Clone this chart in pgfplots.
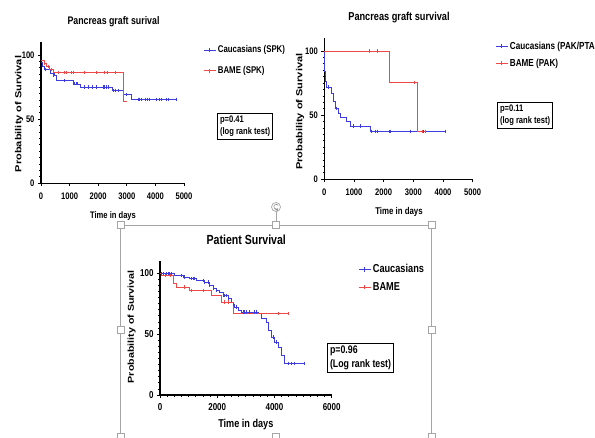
\documentclass[border=0pt]{standalone}
\usepackage{fontspec}
\setmainfont{Liberation Sans}[FakeStretch=0.8]
\newfontfamily\rotfont{Liberation Sans}
\usepackage{pgfplots}
\pgfplotsset{compat=1.18}
\usepackage{graphicx}

\definecolor{kmblue}{RGB}{60,60,225}
\definecolor{kmred}{RGB}{238,72,72}
\definecolor{framegray}{RGB}{165,165,165}

\pgfplotsset{
  kmaxis/.style={
    scale only axis, axis lines*=left, anchor=south west,
    xmin=0, ymin=0, ymax=110,
    ytick={0,50,100}, minor y tick num=9, tick align=outside,
    major tick length=3pt, minor tick length=1.8pt,
    axis line style={black, line width=1.2pt},
    every tick/.style={black, line width=0.8pt},
    /pgf/number format/assume math mode=true,
    /pgf/number format/1000 sep={},
    legend image code/.code={\draw[##1](0pt,0pt)--(12pt,0pt);\draw[##1](6pt,-2.2pt)--(6pt,2.2pt);},
    legend cell align=left,
    clip=false,
  },
  km/.style={const plot, line width=0.7pt, no marks, forget plot},
  cens/.style={only marks, mark=|, mark size=1.6pt, mark options={line width=0.6pt}, forget plot},
}

\begin{document}
\begin{tikzpicture}[x=1pt,y=1pt]
\useasboundingbox (0,0) rectangle (595,437);
\clip (0,0) rectangle (595,437);

% ---------------- selection frame around plot 3 ----------------
\draw[framegray, line width=0.8pt] (120.7,-5) -- (120.7,212) -- (431.7,212) -- (431.7,-5);
\draw[framegray, line width=0.8pt] (276,212) -- (276,225.5);
\draw[framegray, line width=0.7pt, fill=white] (276,230) circle (4.5);
\draw[framegray!80!black, line width=0.5pt, ->, >=stealth] (278.2,231.6) arc (35:320:2.4);
\foreach \hx/\hy in {120.7/212, 276/212, 431.7/212, 120.7/107, 431.7/107, 120.7/0, 276/0, 431.7/0}
  \draw[framegray, line width=0.7pt, fill=white] (\hx-3.5,\hy-3.5) rectangle (\hx+3.5,\hy+3.5);

% ---------------- Plot 1 ----------------
\begin{axis}[kmaxis, at={(41pt,253.7pt)}, width=143pt, height=141.1pt,
  xmax=5000, xtick={0,1000,2000,3000,4000,5000},
  ticklabel style={font=\bfseries\fontsize{9.5}{11}\selectfont},
  xticklabel style={yshift=-3pt},
  legend style={at={(1.133,0.99)}, anchor=north west, draw=none, fill=none,
    font=\bfseries\fontsize{9.8}{11}\selectfont, row sep=8pt, inner sep=0pt},
]
\addplot[km, kmblue] table {
0 94
40 91
120 89
314 86
450 84
530 80
1130 77.5
1360 75
2500 72.5
2880 69
3160 65.5
4730 65.5
};
\addplot[cens, kmblue] table {
140 89
420 84
800 80
1150 77.5
1220 77.5
1280 77.5
1530 75
1640 75
1780 75
1930 75
2170 75
2230 75
2280 75
2340 75
2520 72.5
2600 72.5
2690 72.5
2980 69
3390 65.5
3450 65.5
3510 65.5
3650 65.5
3720 65.5
3800 65.5
4030 65.5
4120 65.5
4190 65.5
4380 65.5
4440 65.5
4730 65.5
};
\addplot[km, kmred] table {
0 95.5
100 93.3
200 91
300 88.8
420 86.5
2890 63.5
3000 63.5
};
\addplot[cens, kmred] table {
130 93.3
250 91
350 88.8
619 86.5
804 86.5
885 86.5
1059 86.5
1119 86.5
1528 86.5
1934 86.5
2228 86.5
2318 86.5
2598 86.5
};
\addlegendimage{color=kmblue, line width=0.7pt}
\addlegendentry{Caucasians (SPK)}
\addlegendimage{color=kmred, line width=0.7pt}
\addlegendentry{BAME (SPK)}
\end{axis}

% ---------------- Plot 2 ----------------
\begin{axis}[kmaxis, at={(324.3pt,257.7pt)}, width=148.4pt, height=141.1pt,
  xmax=5000, xtick={0,1000,2000,3000,4000,5000},
  ticklabel style={font=\bfseries\fontsize{9.5}{11}\selectfont},
  xticklabel style={yshift=-3pt},
  legend style={at={(1.150,0.99)}, anchor=north west, draw=none, fill=none,
    font=\bfseries\fontsize{10.2}{11}\selectfont, row sep=4pt, inner sep=0pt},
]
\addplot[km, kmblue] table {
0 100
2 97
5 94
8 91
12 88
18 84
25 80
40 76
70 72
240 67
320 61
370 55
460 51.5
540 48.5
730 45
880 41.5
1550 37.5
4090 37.5
};
\addplot[cens, kmblue] table {
135 72
415 55
978 41.5
1202 41.5
1600 37.5
1708 37.5
1787 37.5
2191 37.5
2236 37.5
2910 37.5
3337 37.5
3393 37.5
4090 37.5
};
\addplot[km, kmred] table {
0 100
2175 75.5
3120 37.5
3420 37.5
};
\addplot[cens, kmred] table {
1500 100
1780 100
3020 75.5
3300 37.5
3390 37.5
};
\addlegendimage{color=kmblue, line width=0.7pt}
\addlegendentry{Caucasians (PAK/PTA}
\addlegendimage{color=kmred, line width=0.7pt}
\addlegendentry{BAME (PAK)}
\end{axis}

% ---------------- Plot 3 ----------------
\begin{axis}[kmaxis, at={(160pt,42pt)}, width=171.7pt, height=133.9pt,
  xmax=6000, xtick={0,2000,4000,6000}, minor x tick num=7,
  ticklabel style={font=\bfseries\fontsize{10}{12}\selectfont},
  xticklabel style={yshift=-2pt},
  legend style={at={(1.153,0.99)}, anchor=north west, draw=none, fill=none,
    font=\bfseries\fontsize{11.5}{13}\selectfont, row sep=4pt, inner sep=0pt},
]
\addplot[km, kmblue] table {
0 100
163 99.6
512 98.3
804 96.9
1037 95.5
1270 94.2
1561 92.8
1735 90.1
1852 87.9
1968 86
2085 84
2201 81.8
2376 79.1
2492 76.4
2551 74.2
2609 72.3
2725 69.6
2842 68.2
3424 66.8
3541 62.7
3716 60
3774 53.1
3890 47.6
4006 43.5
4123 39.4
4239 32.7
4333 25.7
5055 25.7
};
\addplot[cens, kmblue] table {
47 100
105 100
221 99.6
280 99.6
338 99.6
396 99.6
745 98.3
862 96.9
1095 95.5
1153 95.5
1211 95.5
1503 94.2
1561 92.8
1677 92.8
1735 90.1
1852 87.9
1968 86
2201 81.8
2260 81.8
2318 81.8
2376 79.1
2551 74.2
2667 72.3
2900 68.2
2958 68.2
3016 68.2
3133 68.2
3308 68.2
3366 68.2
3948 47.6
4065 43.5
4472 25.7
4588 25.7
4705 25.7
5055 25.7
};
\addplot[km, kmred] table {
0 100
60 98.3
454 92
571 88.8
1037 86
1794 81.8
2143 76.4
2551 66.8
4472 66.8
};
\addplot[cens, kmred] table {
200 98.3
350 98.3
862 88.8
1095 86
1503 86
2260 76.4
2376 76.4
4123 66.8
4472 66.8
};
\addlegendimage{color=kmblue, line width=0.7pt}
\addlegendentry{Caucasians}
\addlegendimage{color=kmred, line width=0.7pt}
\addlegendentry{BAME}
\end{axis}

% ---------------- titles and labels ----------------
\node[font=\bfseries\fontsize{11}{13}\selectfont] at (113.5,415) {Pancreas graft surival};
\node[font=\bfseries\fontsize{11.5}{13}\selectfont] at (399,419) {Pancreas graft survival};
\node[font=\bfseries\fontsize{13.2}{15}\selectfont] at (246.3,197.7) {Patient Survival};

\node[font=\bfseries\fontsize{9.5}{11}\selectfont] at (113,221) {Time in days};
\node[font=\bfseries\fontsize{9.8}{11}\selectfont] at (399,225) {Time in days};
\node[font=\bfseries\fontsize{11.4}{13}\selectfont] at (245.8,12) {Time in days};

\node[rotate=90] at (19,323) {\scalebox{1}[0.8]{\rotfont\bfseries\fontsize{11}{13}\selectfont Probability of Survival}};
\node[rotate=90] at (300,325.3) {\scalebox{1}[0.8]{\rotfont\bfseries\fontsize{11}{13}\selectfont Probability of Survival}};
\node[rotate=90] at (131.7,110.3) {\scalebox{1}[0.8]{\rotfont\bfseries\fontsize{10.7}{13}\selectfont Probability of Survival}};

% ---------------- p-value boxes ----------------
\node[draw, line width=1pt, align=left, anchor=north west, inner sep=2.5pt,
  font=\bfseries\fontsize{9.5}{12}\selectfont] at (217,324) {p=0.41\\(log rank test)};
\node[draw, line width=1pt, align=left, anchor=north west, inner sep=2.5pt,
  font=\bfseries\fontsize{9.5}{12}\selectfont] at (497,335) {p=0.11\\(log rank test)};
\node[draw, line width=1pt, align=left, anchor=north west, inner sep=2.5pt,
  font=\bfseries\fontsize{11}{14}\selectfont] at (327,94) {p=0.96\\(Log rank test)};
\end{tikzpicture}
\end{document}
